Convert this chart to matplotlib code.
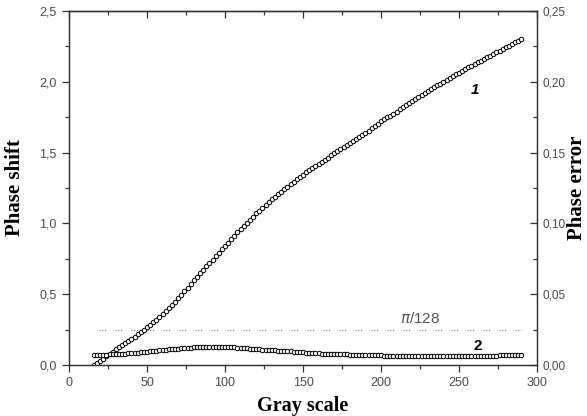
import numpy as np
import matplotlib
matplotlib.use("Agg")
import matplotlib.pyplot as plt
from matplotlib.ticker import MultipleLocator, FuncFormatter

# gray levels (every 2nd level)
gray = np.arange(16, 291, 2)

# curve 1: phase shift (left axis)
phase_shift = [
    0.000, 0.015, 0.030, 0.045, 0.062, 0.078, 0.094, 0.110, 0.124, 0.139,
    0.154, 0.170, 0.185, 0.201, 0.217, 0.233, 0.249, 0.265, 0.283, 0.302,
    0.321, 0.340, 0.360, 0.381, 0.403, 0.425, 0.447, 0.470, 0.495, 0.521,
    0.547, 0.573, 0.600, 0.624, 0.648, 0.672, 0.696, 0.720, 0.744, 0.768,
    0.792, 0.816, 0.840, 0.864, 0.888, 0.912, 0.936, 0.960, 0.982, 1.004,
    1.026, 1.048, 1.070, 1.090, 1.110, 1.130, 1.150, 1.170, 1.188, 1.206,
    1.224, 1.242, 1.260, 1.277, 1.294, 1.311, 1.328, 1.345, 1.360, 1.375,
    1.390, 1.405, 1.420, 1.435, 1.450, 1.465, 1.480, 1.495, 1.510, 1.525,
    1.540, 1.555, 1.570, 1.584, 1.598, 1.612, 1.626, 1.640, 1.656, 1.672,
    1.688, 1.704, 1.720, 1.734, 1.748, 1.762, 1.776, 1.790, 1.805, 1.820,
    1.835, 1.850, 1.865, 1.879, 1.893, 1.907, 1.921, 1.935, 1.948, 1.961,
    1.974, 1.987, 2.000, 2.013, 2.026, 2.039, 2.052, 2.065, 2.077, 2.089,
    2.101, 2.113, 2.125, 2.137, 2.149, 2.161, 2.173, 2.185, 2.197, 2.209,
    2.221, 2.233, 2.245, 2.256, 2.267, 2.278, 2.289, 2.300,
]

# curve 2: phase error (right axis)
phase_error = [
    0.0069, 0.0070, 0.0071, 0.0072, 0.0073, 0.0075, 0.0076, 0.0077, 0.0078, 0.0080,
    0.0081, 0.0083, 0.0085, 0.0086, 0.0088, 0.0090, 0.0093, 0.0095, 0.0097, 0.0100,
    0.0102, 0.0104, 0.0106, 0.0108, 0.0110, 0.0112, 0.0114, 0.0116, 0.0118, 0.0120,
    0.0122, 0.0123, 0.0125, 0.0126, 0.0127, 0.0127, 0.0128, 0.0128, 0.0129, 0.0129,
    0.0129, 0.0129, 0.0128, 0.0128, 0.0126, 0.0124, 0.0122, 0.0120, 0.0118, 0.0117,
    0.0115, 0.0114, 0.0112, 0.0111, 0.0109, 0.0108, 0.0106, 0.0105, 0.0104, 0.0102,
    0.0100, 0.0099, 0.0098, 0.0096, 0.0095, 0.0093, 0.0091, 0.0089, 0.0088, 0.0087,
    0.0085, 0.0084, 0.0082, 0.0081, 0.0080, 0.0079, 0.0078, 0.0078, 0.0077, 0.0076,
    0.0076, 0.0075, 0.0074, 0.0074, 0.0073, 0.0072, 0.0072, 0.0071, 0.0070, 0.0070,
    0.0069, 0.0068, 0.0068, 0.0067, 0.0067, 0.0066, 0.0066, 0.0065, 0.0065, 0.0065,
    0.0064, 0.0064, 0.0064, 0.0063, 0.0063, 0.0063, 0.0063, 0.0062, 0.0062, 0.0062,
    0.0062, 0.0062, 0.0062, 0.0062, 0.0062, 0.0062, 0.0062, 0.0063, 0.0063, 0.0063,
    0.0063, 0.0064, 0.0064, 0.0064, 0.0065, 0.0065, 0.0066, 0.0066, 0.0067, 0.0067,
    0.0068, 0.0068, 0.0069, 0.0069, 0.0070, 0.0071, 0.0071, 0.0072,
]

limit_x = [19, 290]
limit_val = np.pi / 128

tick_col = "#4a4a4a"
spine_col = "#333333"
plt.rcParams["font.family"] = "Liberation Sans"

fig = plt.figure(figsize=(5.87, 4.16), dpi=100)
ax = fig.add_axes([69/587, 51/416, 468/587, 354/416])
ax2 = ax.twinx()

ax.plot(gray, phase_shift, ls="none", marker="o", ms=3.2, mfc="white",
        mec="black", mew=0.7, zorder=3)
ax2.plot(gray, phase_error, ls="none", marker="o", ms=3.2, mfc="white",
         mec="black", mew=0.7, zorder=3)
ax2.plot(limit_x, [limit_val, limit_val], color="#666666", lw=0.8,
         ls=(0, (0.9, 1.6, 0.9, 1.6, 0.9, 8.5)))

ax.set_xlim(0, 300)
ax.set_ylim(0, 2.5)
ax2.set_ylim(0, 0.25)

comma1 = FuncFormatter(lambda v, p: ("%.1f" % v).replace(".", ","))
comma2 = FuncFormatter(lambda v, p: ("%.2f" % v).replace(".", ","))
ax.xaxis.set_major_locator(MultipleLocator(50))
ax.xaxis.set_minor_locator(MultipleLocator(25))
ax.yaxis.set_major_locator(MultipleLocator(0.5))
ax.yaxis.set_minor_locator(MultipleLocator(0.25))
ax.yaxis.set_major_formatter(comma1)
ax2.yaxis.set_major_locator(MultipleLocator(0.05))
ax2.yaxis.set_minor_locator(MultipleLocator(0.025))
ax2.yaxis.set_major_formatter(comma2)

ax.tick_params(which="major", direction="out", length=5, width=0.9,
               color=spine_col, labelcolor=tick_col, labelsize=9, pad=4)
ax.tick_params(which="minor", direction="out", length=3, width=0.9,
               color=spine_col)
ax2.tick_params(which="major", direction="in", length=5, width=0.9,
                color=spine_col, labelcolor=tick_col, labelsize=8.5, pad=4)
ax2.tick_params(which="minor", direction="in", length=3, width=0.9,
                color=spine_col)

top = ax.secondary_xaxis("top")
top.xaxis.set_major_locator(MultipleLocator(50))
top.xaxis.set_minor_locator(MultipleLocator(25))
top.tick_params(which="major", direction="in", length=5, width=0.9,
                color=spine_col, labeltop=False)
top.tick_params(which="minor", direction="in", length=3, width=0.9,
                color=spine_col)

for a in (ax, ax2, top):
    for s in a.spines.values():
        s.set_color(spine_col)
        s.set_linewidth(0.9)

ax.set_xlabel("Gray scale", family="Liberation Serif", weight="bold",
              fontsize=14.5)
ax.set_ylabel("Phase shift", family="Liberation Serif", weight="bold",
              fontsize=15)
ax2.set_ylabel("Phase error", family="Liberation Serif", weight="bold",
               fontsize=15)
ax.xaxis.set_label_coords(0.5, -0.088)
ax.yaxis.set_label_coords(-0.094, 0.5)
ax2.yaxis.set_label_coords(1.064, 0.5)

ax.text(260, 1.94, "1", fontsize=11, weight="bold", style="italic",
        ha="center", va="center")
ax.text(262, 0.134, "2", fontsize=11, weight="bold", ha="center", va="center")
ax.text(225, 0.33, r"$\pi$/128", fontsize=11, color="#555555",
        ha="center", va="center")

fig.savefig("out.png", dpi=100)
